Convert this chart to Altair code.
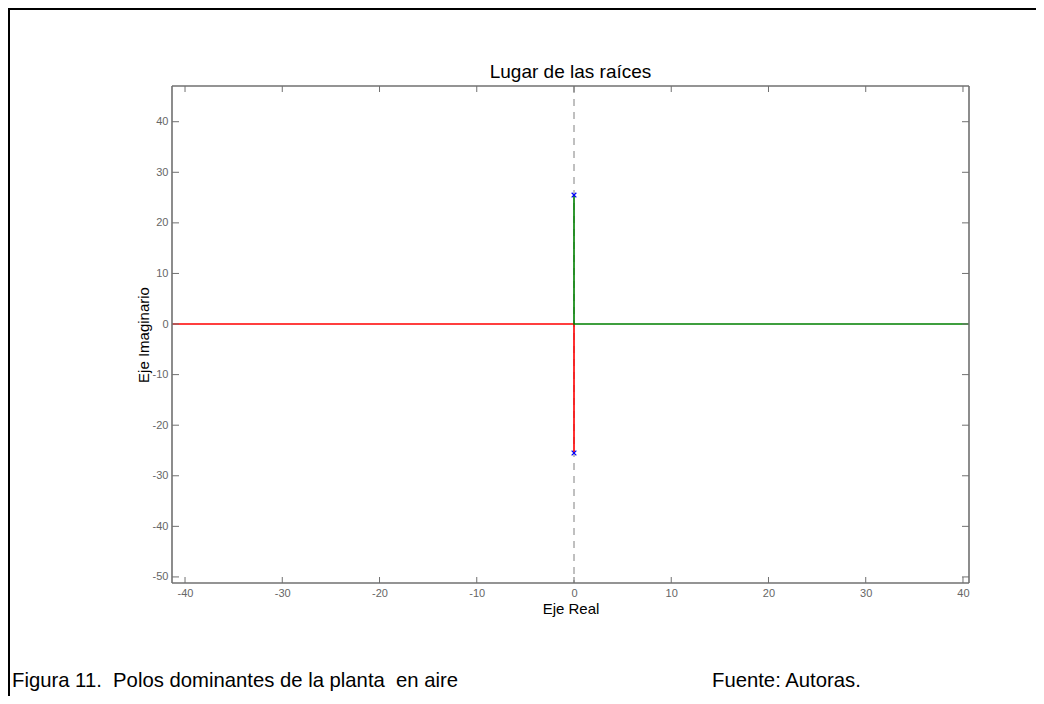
import altair as alt
import pandas as pd

# ---- data ----
x_ticks = [-40, -30, -20, -10, 0, 10, 20, 30, 40]
y_ticks = [-50, -40, -30, -20, -10, 0, 10, 20, 30, 40]
x_domain = [-41.34, 40.62]
y_domain = [-51.2, 47.06]

pole_re = [0, 0]
pole_im = [25.5, -25.5]

red_re = [-45, 0, 0]
red_im = [0, 0, -25.5]
green_re = [0, 0, 45]
green_im = [25.5, 0, 0]

title_text = "Lugar de las raíces"
xlabel = "Eje Real"
ylabel = "Eje Imaginario"
caption_left = "Figura 11.\u00a0 Polos dominantes de la planta\u00a0 en aire"
caption_right = "Fuente: Autoras."

W, H = 797, 497
FONT = "Liberation Sans"
AXIS_GRAY = "#707070"
LABEL_GRAY = "#666666"

xs = alt.Scale(domain=x_domain, nice=False, zero=False)
ys = alt.Scale(domain=y_domain, nice=False, zero=False)

branches = pd.DataFrame({
    "re": red_re + green_re,
    "im": red_im + green_im,
    "branch": ["red"] * 3 + ["green"] * 3,
    "ord": [0, 1, 2, 0, 1, 2],
})
poles = pd.DataFrame({"re": pole_re, "im": pole_im})
xt = pd.DataFrame({"v": x_ticks})
yt = pd.DataFrame({"v": y_ticks})

x_axis = alt.Axis(values=x_ticks, ticks=False, domain=False, grid=False,
                  title=xlabel, labelExpr="'' + datum.value",
                  labelColor=LABEL_GRAY, labelFontSize=11, labelFont=FONT,
                  labelPadding=4, titleFont=FONT, titleFontSize=15,
                  titleFontWeight="normal", titleColor="black", titlePadding=3)
y_axis = alt.Axis(values=y_ticks, ticks=False, domain=False, grid=False,
                  title=ylabel, labelExpr="'' + datum.value",
                  labelColor=LABEL_GRAY, labelFontSize=11, labelFont=FONT,
                  labelPadding=4, titleFont=FONT, titleFontSize=15,
                  titleFontWeight="normal", titleColor="black", titlePadding=1)

dash_v = alt.Chart(pd.DataFrame({"v": [0]})).mark_rule(
    color="#808080", strokeDash=[7, 6], strokeWidth=1
).encode(x=alt.X("v:Q", scale=xs))

lines = alt.Chart(branches).mark_line(clip=True, strokeWidth=1.6).encode(
    x=alt.X("re:Q", scale=xs, axis=x_axis),
    y=alt.Y("im:Q", scale=ys, axis=y_axis),
    color=alt.Color("branch:N", scale=alt.Scale(domain=["red", "green"],
                    range=["#ff0000", "#008000"]), legend=None),
    order="ord:Q",
)

pts = alt.Chart(poles).mark_point(
    shape="M-1,-1L1,1M1,-1L-1,1", filled=False, color="#0000ff",
    size=22, strokeWidth=1.2, opacity=1
).encode(x=alt.X("re:Q", scale=xs), y=alt.Y("im:Q", scale=ys))

TL = 6
tick_style = dict(color=AXIS_GRAY, strokeWidth=1)
bot = alt.Chart(xt).mark_rule(**tick_style).encode(
    x=alt.X("v:Q", scale=xs), y=alt.value(H), y2=alt.value(H - TL))
top = alt.Chart(xt).mark_rule(**tick_style).encode(
    x=alt.X("v:Q", scale=xs), y=alt.value(0), y2=alt.value(TL))
lef = alt.Chart(yt).mark_rule(**tick_style).encode(
    y=alt.Y("v:Q", scale=ys), x=alt.value(0), x2=alt.value(TL + 1))
rig = alt.Chart(yt).mark_rule(**tick_style).encode(
    y=alt.Y("v:Q", scale=ys), x=alt.value(W), x2=alt.value(W - TL - 1))

# plot box
box_style = dict(color=AXIS_GRAY, strokeWidth=1.6, clip=False)
box = pd.DataFrame({"a": [0]})
box_t = alt.Chart(box).mark_rule(**box_style).encode(
    x=alt.value(0), x2=alt.value(W), y=alt.value(0))
box_b = alt.Chart(box).mark_rule(**box_style).encode(
    x=alt.value(0), x2=alt.value(W), y=alt.value(H))
box_l = alt.Chart(box).mark_rule(**box_style).encode(
    x=alt.value(0), y=alt.value(0), y2=alt.value(H))
box_r = alt.Chart(box).mark_rule(**box_style).encode(
    x=alt.value(W), y=alt.value(0), y2=alt.value(H))

# outer figure frame (top and left edges)
frame_top = alt.Chart(box).mark_rule(
    color="black", strokeWidth=2, clip=False
).encode(x=alt.value(-164), x2=alt.value(870), y=alt.value(-77))
frame_left = alt.Chart(box).mark_rule(
    color="black", strokeWidth=2, clip=False
).encode(x=alt.value(-163), y=alt.value(-78), y2=alt.value(620))

ttl = alt.Chart(pd.DataFrame({"t": [title_text]})).mark_text(
    align="center", baseline="alphabetic", font=FONT, fontSize=19, color="black"
).encode(x=alt.value(W / 2), y=alt.value(-8.3), text="t:N")

cap1 = alt.Chart(pd.DataFrame({"t": [caption_left]})).mark_text(
    align="left", baseline="alphabetic", font=FONT, fontSize=20.3, color="black"
).encode(x=alt.value(-160), y=alt.value(601), text="t:N")
cap2 = alt.Chart(pd.DataFrame({"t": [caption_right]})).mark_text(
    align="left", baseline="alphabetic", font=FONT, fontSize=20.3, color="black"
).encode(x=alt.value(540), y=alt.value(601), text="t:N")

chart = alt.layer(
    dash_v, lines, pts, bot, top, lef, rig,
    box_t, box_b, box_l, box_r,
    frame_top, frame_left, ttl, cap1, cap2
).properties(
    width=W, height=H,
    background="white",
    autosize=alt.AutoSizeParams(type="none"),
    padding={"left": 164, "top": 78, "right": 67, "bottom": 113},
).configure_view(
    stroke=None
)

chart.save("out.html", embed_options={"renderer": "svg", "actions": False})
